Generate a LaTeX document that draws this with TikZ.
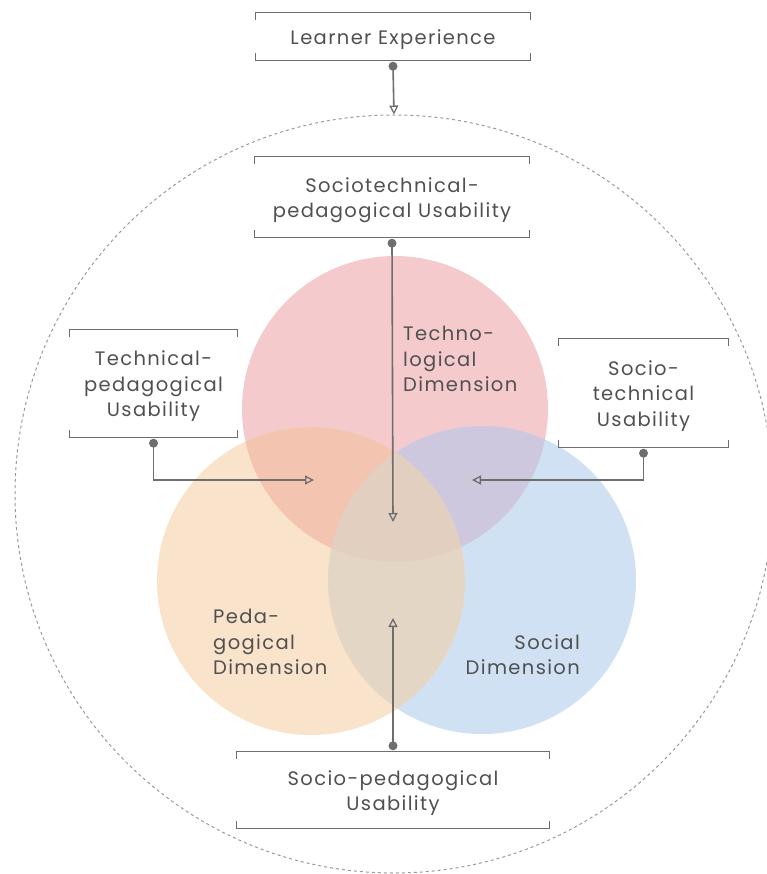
\documentclass[tikz,border=0pt]{standalone}
\usepackage{fontspec}
\setmainfont{Poppins}[LetterSpace=7]
\usetikzlibrary{arrows.meta}
\definecolor{txt}{HTML}{505050}
\definecolor{ln}{HTML}{6E6E6E}
\definecolor{cred}{HTML}{F4CACD}
\definecolor{corange}{HTML}{FAE3CB}
\definecolor{cblue}{HTML}{CFE1F3}
\definecolor{cro}{HTML}{F3C5B0}
\definecolor{crb}{HTML}{CEC8DE}
\definecolor{cob}{HTML}{E4D6C5}
\definecolor{call}{HTML}{E3CFC0}
\begin{document}
\begin{tikzpicture}[x=1pt,y=-1pt,
  lbl/.style={text=txt,font=\fontsize{19.5}{25.5}\selectfont,inner sep=0pt},
  bbox/.style={inner sep=0pt,minimum width=#1},
  btext/.style={lbl,align=center},
  conn/.style={draw=ln,line width=1.6pt,-{Triangle[open,length=9pt,width=9pt,line width=1.3pt]}},
  dotc/.style={circle,fill=ln,inner sep=0pt,minimum size=9pt},
  brk/.style={draw=ln,line width=1.3pt}]
\useasboundingbox (0,0) rectangle (767,874);
% outer dashed circle
\node[circle,draw=ln!70,dash pattern=on 3pt off 3pt,line width=1pt,minimum size=758pt,inner sep=0pt] (outer) at (394,494) {};
% circles
\fill[cred] (395,409) circle (153);
\fill[cblue] (482,580) circle (154);
\fill[corange] (311,581) circle (154);
\begin{scope}
\clip (395,409) circle (153);
\fill[cro] (311,581) circle (154);
\fill[crb] (482,580) circle (154);
\end{scope}
\begin{scope}
\clip (311,581) circle (154);
\fill[cob] (482,580) circle (154);
\clip (482,580) circle (154);
\fill[call] (395,409) circle (153);
\end{scope}
\node[circle,minimum size=306pt,inner sep=0pt] (tech) at (395,409) {};
\node[circle,minimum size=308pt,inner sep=0pt] (peda) at (311,581) {};
\node[circle,minimum size=308pt,inner sep=0pt] (soc) at (482,580) {};
% boxes
\node[bbox=274pt,minimum height=47pt] (le) at (393,36.5) {};
\node[bbox=274pt,minimum height=80pt] (stp) at (392,197) {};
\node[bbox=167pt,minimum height=107pt] (tp) at (153.5,383.5) {};
\node[bbox=169pt,minimum height=108pt] (st) at (643.5,393) {};
\node[bbox=312pt,minimum height=76pt] (sp) at (393,790) {};
\node[btext] (le-t) at ([yshift=-3pt]le.center) {Learner Experience};
\node[btext] (stp-t) at ([yshift=-3pt]stp.center) {Sociotechnical-\\pedagogical Usability};
\node[btext] (tp-t) at ([yshift=-3pt]tp.center) {Technical-\\pedagogical\\Usability};
\node[btext] (st-t) at ([yshift=-3pt]st.center) {Socio-\\technical\\Usability};
\node[btext] (sp-t) at ([yshift=-3pt]sp.center) {Socio-pedagogical\\Usability};
\foreach \b in {le,stp,tp,st,sp}{
  \draw[brk] ([yshift=-7pt]\b.north west) -- (\b.north west) -- (\b.north east) -- ([yshift=-7pt]\b.north east);
  \draw[brk] ([yshift=7pt]\b.south west) -- (\b.south west) -- (\b.south east) -- ([yshift=7pt]\b.south east);
}
% dimension labels
\node[lbl,align=left,anchor=west] (tlab) at (403,359) {Techno-\\logical\\Dimension};
\node[lbl,align=left,anchor=west] (plab) at (213,642) {Peda-\\gogical\\Dimension};
\node[lbl,align=right,anchor=east] (slab) at (580,654.5) {Social\\Dimension};
% connector endpoints
\node[dotc] (d1) at ([yshift=-6pt]le.south) {};
\node[dotc] (d2) at ([yshift=-6pt]stp.south) {};
\node[dotc] (d3) at ([yshift=-6pt]tp.south) {};
\node[dotc] (d4) at ([yshift=-6pt]st.south) {};
\node[dotc] (d5) at ([yshift=6pt]sp.north) {};
\coordinate (e2) at (393,522);
\coordinate (e3) at (314,480);
\coordinate (e4) at (472,480);
\coordinate (e5) at (393,618);
\draw[conn] (d1.center) -- (outer.north);
\draw[conn] (d2.center) -- (e2);
\draw[conn] (d3.center) |- (e3);
\draw[conn] (d4.center) |- (e4);
\draw[conn] (d5.center) -- (e5);
\end{tikzpicture}
\end{document}
